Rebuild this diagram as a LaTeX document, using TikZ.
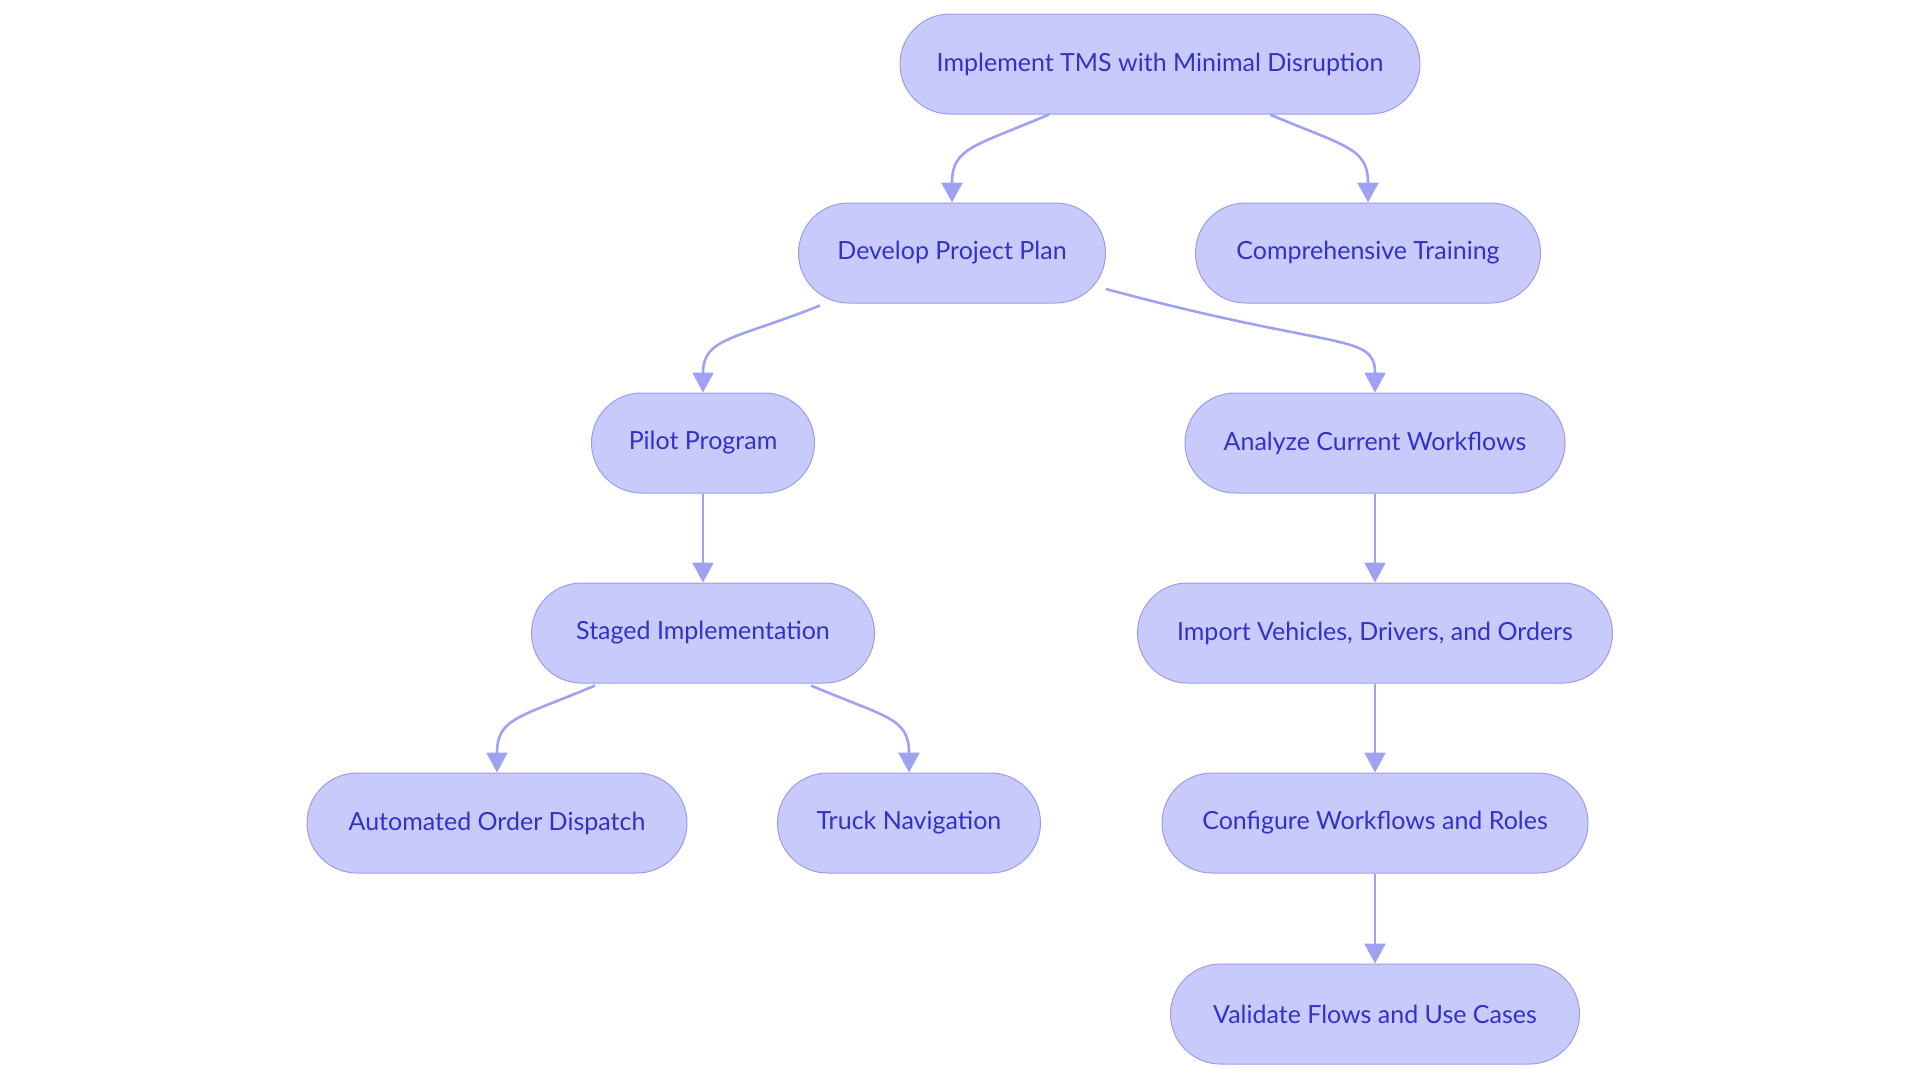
\documentclass[tikz,border=0pt]{standalone}
\usepackage{fontspec}
\setmainfont{Lato}
\usetikzlibrary{arrows.meta,calc}
\definecolor{boxfill}{HTML}{C9CAFC}
\definecolor{boxline}{HTML}{9A9CEC}
\definecolor{boxtext}{HTML}{3232C8}
\definecolor{linkcol}{HTML}{9EA2F0}
\begin{document}
\begin{tikzpicture}[x=0.5pt, y=-0.5pt,
  box/.style={draw=boxline, line width=0.5pt, fill=boxfill, text=boxtext,
    rounded corners=25pt, minimum height=50pt,
    font=\fontsize{12.5}{15}\selectfont},
  link/.style={draw=linkcol, line width=1.3pt,
    -{Triangle[length=10pt,width=10.5pt]}}]
\useasboundingbox (0,0) rectangle (1920,1083);
% nodes
\node[box, minimum width=260pt] (top) at (1160,64) {Implement TMS with Minimal Disruption};
\node[box, minimum width=153.5pt] (plan) at (952,253) {Develop Project Plan};
\node[box, minimum width=172.5pt] (train) at (1368,253) {Comprehensive Training};
\node[box, minimum width=111.5pt] (pilot) at (703,443) {Pilot Program};
\node[box, minimum width=190pt] (analyze) at (1375,443) {Analyze Current Workflows};
\node[box, minimum width=171.5pt] (staged) at (703,633) {Staged Implementation};
\node[box, minimum width=237.5pt] (import) at (1375,633) {Import Vehicles, Drivers, and Orders};
\node[box, minimum width=190pt] (dispatch) at (497,823) {Automated Order Dispatch};
\node[box, minimum width=131.5pt] (truck) at (909,823) {Truck Navigation};
\node[box, minimum width=213pt] (config) at (1375,823) {Configure Workflows and Roles};
\node[box, minimum width=204.5pt] (validate) at (1375,1014) {Validate Flows and Use Cases};
% links
\draw[link] ($(top.south)+(-111,0)$) .. controls +(-75,32) and +(0,-55) .. (plan.north);
\draw[link] ($(top.south)+(110,0)$) .. controls +(75,32) and +(0,-55) .. (train.north);
\draw[link] ($(plan.south)+(-132,2)$) .. controls +(-85,34) and +(0,-55) .. (pilot.north);
\draw[link] ($(plan.east)+(0,36)$) .. controls +(230,62) and +(0,-60) .. (analyze.north);
\draw[link] (pilot) -- (staged);
\draw[link] ($(staged.south)+(-108,2)$) .. controls +(-75,32) and +(0,-55) .. (dispatch.north);
\draw[link] ($(staged.south)+(108,2)$) .. controls +(75,32) and +(0,-55) .. (truck.north);
\draw[link] (analyze) -- (import);
\draw[link] (import) -- (config);
\draw[link] (config) -- (validate);
\end{tikzpicture}
\end{document}
